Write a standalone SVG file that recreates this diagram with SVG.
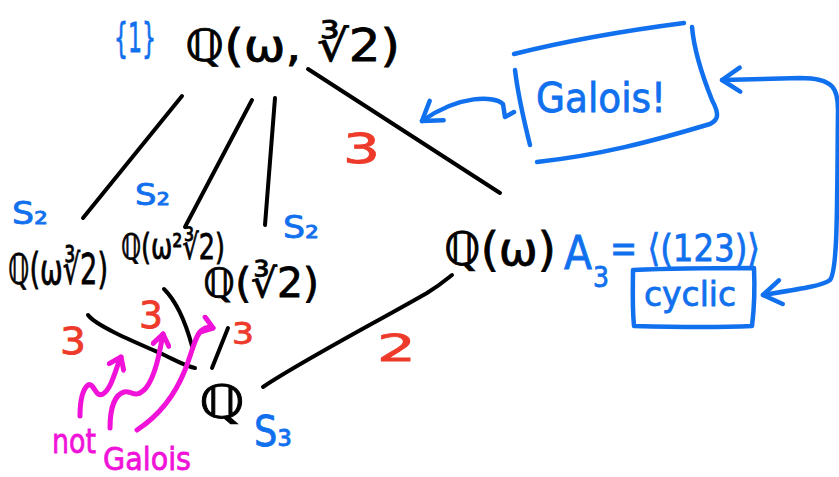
<svg xmlns="http://www.w3.org/2000/svg" width="839" height="477" viewBox="0 0 839 477">
<defs>
<style>
.k{fill:#000;stroke:#000;stroke-width:0.8;font-family:"DejaVu Sans",sans-serif}
.b{fill:#1170EE;stroke:#1170EE;stroke-width:0.8;font-family:"DejaVu Sans",sans-serif}
.r{fill:#EE3A2A;stroke:#EE3A2A;stroke-width:0.8;font-family:"DejaVu Sans",sans-serif}
.m{fill:#F012D8;stroke:#F012D8;stroke-width:0.8;font-family:"DejaVu Sans",sans-serif}
.ln{fill:none;stroke:#000;stroke-width:4;stroke-linecap:round;stroke-linejoin:round}
.bl{fill:none;stroke:#1170EE;stroke-width:4.5;stroke-linecap:round;stroke-linejoin:round}
.ml{fill:none;stroke:#F012D8;stroke-width:5;stroke-linecap:round;stroke-linejoin:round}
</style>
<marker id="ab" markerUnits="userSpaceOnUse" markerWidth="30" markerHeight="30" viewBox="0 0 30 30" refX="26" refY="15" orient="auto-start-reverse">
<path d="M8,3 L26,15 L8,27" fill="none" stroke="#1170EE" stroke-width="4.5" stroke-linecap="round" stroke-linejoin="round"/>
</marker>
<marker id="am" markerUnits="userSpaceOnUse" markerWidth="20" markerHeight="20" viewBox="0 0 20 20" refX="17" refY="10" orient="auto">
<path d="M6,2 L17,10 L6,18" fill="none" stroke="#F012D8" stroke-width="5" stroke-linecap="round" stroke-linejoin="round"/>
</marker>
</defs>
<rect width="839" height="477" fill="#fff"/>

<g id="connectors">
<path class="ln" d="M182,96 L83,218"/>
<path class="ln" d="M252,100 L185,227"/>
<path class="ln" d="M275,98 L265,225"/>
<path class="ln" d="M308,69 L500,193"/>
<path class="ln" d="M88,315 C95,325 130,340 160,353 C175,360 185,366 195,368"/>
<path class="ln" d="M164,289 C175,300 185,320 192,346"/>
<path class="ln" d="M228,328 L212,368"/>
<path class="ln" d="M263,387 C300,362 380,320 427,293 C440,285 447,279 452,275"/>
<text class="r" x="343" y="163" font-size="40" textLength="37" lengthAdjust="spacingAndGlyphs">3</text>
<text class="r" x="60" y="354" font-size="38" textLength="26" lengthAdjust="spacingAndGlyphs">3</text>
<text class="r" x="139" y="328" font-size="38" textLength="24" lengthAdjust="spacingAndGlyphs">3</text>
<text class="r" x="232" y="344" font-size="30" textLength="22" lengthAdjust="spacingAndGlyphs">3</text>
<text class="r" x="377" y="361" font-size="38" textLength="39" lengthAdjust="spacingAndGlyphs">2</text>
<path class="bl" d="M514,112 L505,117 L503,104 C495,96 460,94 422,121" marker-end="url(#ab)"/>
<path class="bl" d="M763,295 C800,289 822,286 830,280 C838,270 837,200 838,110 C838,90 835,78 800,78 L722,80" marker-start="url(#ab)" marker-end="url(#ab)"/>
<path class="ml" d="M80,416 C80,400 82,390 88,385 C94,382 95,398 103,394 C112,388 115,370 121,357" marker-end="url(#am)"/>
<path class="ml" d="M110,428 C110,410 114,395 124,392 C132,390 135,400 146,388 C156,375 160,350 163,334" marker-end="url(#am)"/>
<path class="ml" d="M137,430 C160,415 175,395 185,370 C193,350 195,335 202,330 C206,327 210,327 213,328" marker-end="url(#am)"/>
</g>

<g id="n_top">
<text class="b" x="114" y="52" font-size="40" textLength="42" lengthAdjust="spacingAndGlyphs">{1}</text>
<text class="k" x="185" y="61" font-size="44" textLength="215" lengthAdjust="spacingAndGlyphs">ℚ(ω, ∛2)</text>
</g>
<g id="n_w3r2">
<text class="b" x="12" y="224" font-size="32" textLength="36" lengthAdjust="spacingAndGlyphs">S₂</text>
<text class="k" x="8" y="284" font-size="42" textLength="100" lengthAdjust="spacingAndGlyphs">ℚ(ω∛2)</text>
</g>
<g id="n_w2r2">
<text class="b" x="135" y="205" font-size="30" textLength="35" lengthAdjust="spacingAndGlyphs">S₂</text>
<text class="k" x="121" y="259" font-size="35" textLength="104" lengthAdjust="spacingAndGlyphs">ℚ(ω²∛2)</text>
</g>
<g id="n_r2">
<text class="b" x="283" y="238" font-size="32" textLength="36" lengthAdjust="spacingAndGlyphs">S₂</text>
<text class="k" x="203" y="297" font-size="40" textLength="116" lengthAdjust="spacingAndGlyphs">ℚ(∛2)</text>
</g>
<g id="n_w">
<text class="k" x="444" y="265" font-size="46" textLength="112" lengthAdjust="spacingAndGlyphs">ℚ(ω)</text>
<text class="b" x="564" y="269" font-size="46" textLength="28" lengthAdjust="spacingAndGlyphs">A</text>
<text class="b" x="593" y="287" font-size="28" textLength="16" lengthAdjust="spacingAndGlyphs">3</text>
<text class="b" x="610" y="261" font-size="38" textLength="150" lengthAdjust="spacingAndGlyphs">= ⟨(123)⟩</text>
</g>
<g id="n_q">
<text class="k" x="199" y="418" font-size="46" textLength="46" lengthAdjust="spacingAndGlyphs">ℚ</text>
<text class="b" x="254" y="446" font-size="42" textLength="38" lengthAdjust="spacingAndGlyphs">S₃</text>
</g>
<g id="n_galois">
<path class="bl" d="M514,54 C570,40 630,30 684,23"/>
<path class="bl" d="M692,27 C694,50 702,75 712,100 C720,115 718,120 710,124 C650,142 600,155 537,162"/>
<path class="bl" d="M515,70 C518,95 525,125 530,145"/>
<text class="b" x="536" y="112" font-size="40" textLength="130" lengthAdjust="spacingAndGlyphs">Galois!</text>
</g>
<g id="n_cyclic">
<path class="bl" d="M633,270 C680,268 720,268 754,268 C755,290 754,310 752,326 C710,328 670,327 634,326 C632,305 633,285 633,270 Z"/>
<text class="b" x="644" y="306" font-size="34" textLength="92" lengthAdjust="spacingAndGlyphs">cyclic</text>
</g>
<g id="n_notgalois">
<text class="m" x="52" y="453" font-size="34" textLength="44" lengthAdjust="spacingAndGlyphs">not</text>
<text class="m" x="103" y="470" font-size="32" textLength="88" lengthAdjust="spacingAndGlyphs">Galois</text>
</g>
</svg>
